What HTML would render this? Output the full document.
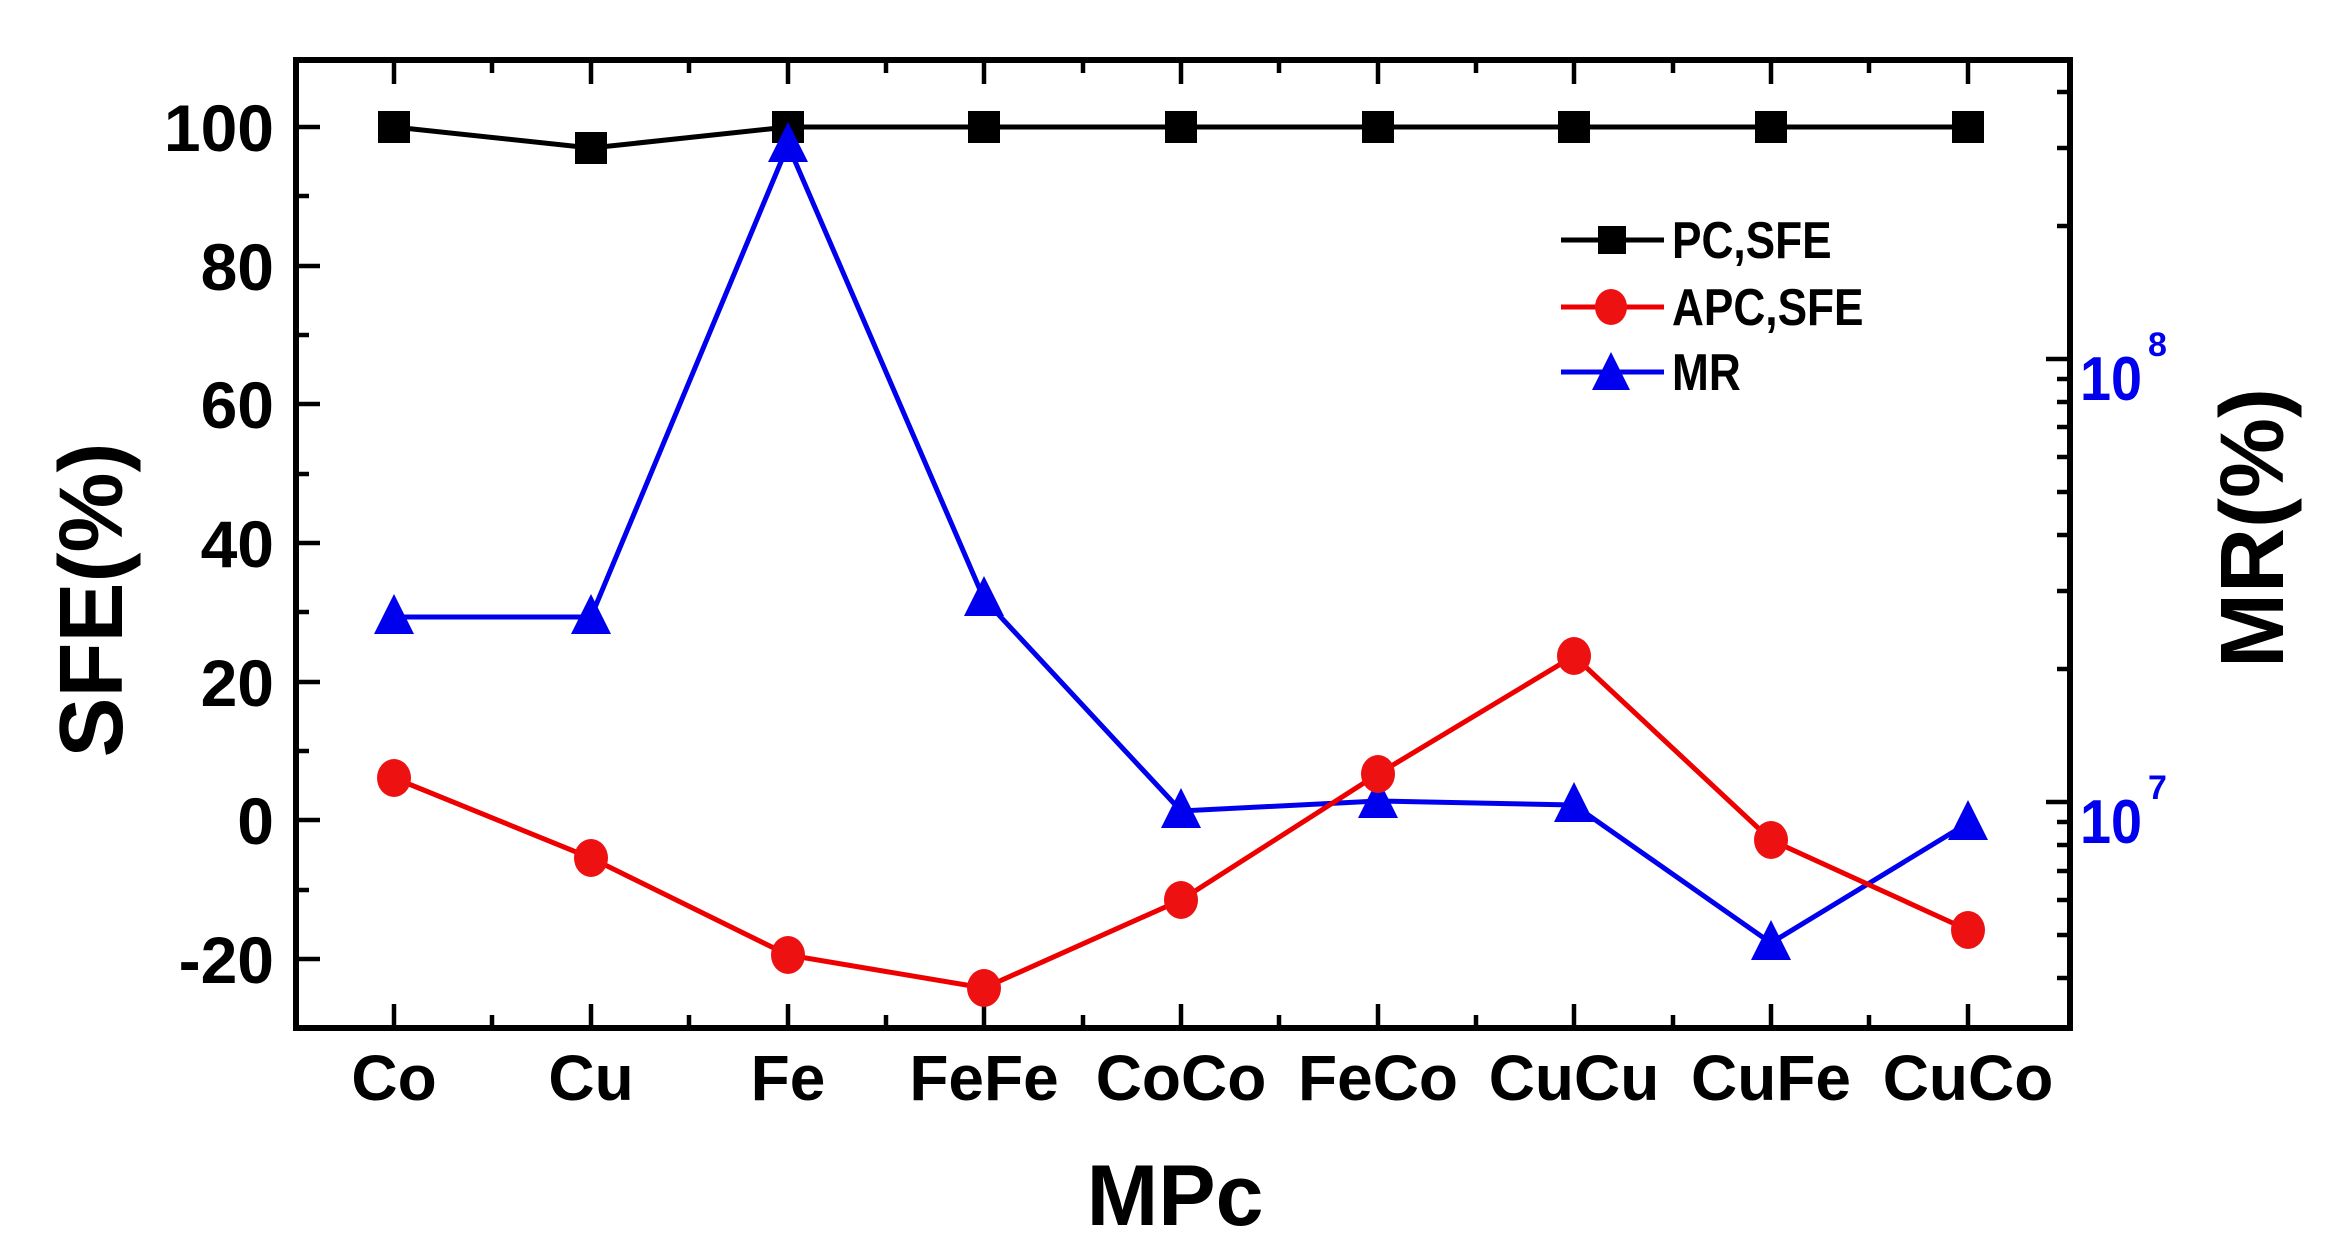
<!DOCTYPE html>
<html><head><meta charset="utf-8"><style>
html,body{margin:0;padding:0;background:#fff;}
svg{display:block;}
text{font-family:"Liberation Sans",Arial,sans-serif;font-weight:bold;}
</style></head><body>
<svg width="2335" height="1255" viewBox="0 0 2335 1255" xmlns="http://www.w3.org/2000/svg">
<rect width="2335" height="1255" fill="#fff"/>
<g stroke="#000" stroke-width="4.5">
  <line x1="296" y1="127" x2="320" y2="127"/><line x1="296" y1="266" x2="320" y2="266"/>
  <line x1="296" y1="404" x2="320" y2="404"/><line x1="296" y1="543" x2="320" y2="543"/>
  <line x1="296" y1="682" x2="320" y2="682"/><line x1="296" y1="820" x2="320" y2="820"/>
  <line x1="296" y1="959" x2="320" y2="959"/>
  <line x1="296" y1="196" x2="309" y2="196"/><line x1="296" y1="335" x2="309" y2="335"/>
  <line x1="296" y1="474" x2="309" y2="474"/><line x1="296" y1="612" x2="309" y2="612"/>
  <line x1="296" y1="751" x2="309" y2="751"/><line x1="296" y1="890" x2="309" y2="890"/>
  <g id="xt">
  <line x1="394" y1="1028" x2="394" y2="1004"/><line x1="591" y1="1028" x2="591" y2="1004"/>
  <line x1="788" y1="1028" x2="788" y2="1004"/><line x1="984" y1="1028" x2="984" y2="1004"/>
  <line x1="1181" y1="1028" x2="1181" y2="1004"/><line x1="1378" y1="1028" x2="1378" y2="1004"/>
  <line x1="1574" y1="1028" x2="1574" y2="1004"/><line x1="1771" y1="1028" x2="1771" y2="1004"/>
  <line x1="1968" y1="1028" x2="1968" y2="1004"/>
  <line x1="492" y1="1028" x2="492" y2="1015"/><line x1="689" y1="1028" x2="689" y2="1015"/>
  <line x1="886" y1="1028" x2="886" y2="1015"/><line x1="1083" y1="1028" x2="1083" y2="1015"/>
  <line x1="1279" y1="1028" x2="1279" y2="1015"/><line x1="1476" y1="1028" x2="1476" y2="1015"/>
  <line x1="1673" y1="1028" x2="1673" y2="1015"/><line x1="1869" y1="1028" x2="1869" y2="1015"/>
  </g>
  <use href="#xt" transform="translate(0,1088) scale(1,-1)"/>
  <line x1="2070" y1="359" x2="2046" y2="359"/><line x1="2070" y1="802" x2="2046" y2="802"/>
  <line x1="2070" y1="978" x2="2057" y2="978"/><line x1="2070" y1="935" x2="2057" y2="935"/>
  <line x1="2070" y1="900" x2="2057" y2="900"/><line x1="2070" y1="871" x2="2057" y2="871"/>
  <line x1="2070" y1="845" x2="2057" y2="845"/><line x1="2070" y1="822" x2="2057" y2="822"/>
  <line x1="2070" y1="669" x2="2057" y2="669"/><line x1="2070" y1="591" x2="2057" y2="591"/>
  <line x1="2070" y1="535" x2="2057" y2="535"/><line x1="2070" y1="492" x2="2057" y2="492"/>
  <line x1="2070" y1="457" x2="2057" y2="457"/><line x1="2070" y1="427" x2="2057" y2="427"/>
  <line x1="2070" y1="402" x2="2057" y2="402"/><line x1="2070" y1="379" x2="2057" y2="379"/>
  <line x1="2070" y1="226" x2="2057" y2="226"/><line x1="2070" y1="148" x2="2057" y2="148"/>
  <line x1="2070" y1="92" x2="2057" y2="92"/>
</g>
<rect x="296" y="60" width="1774" height="968" fill="none" stroke="#000" stroke-width="6"/>
<polyline fill="none" stroke="#000" stroke-width="5" points="394,127 591,148 788,127 984,127 1181,127 1378,127 1574,127 1771,127 1968,127"/>
<g fill="#000">
<rect x="378" y="111" width="32" height="32"/><rect x="575" y="132" width="32" height="32"/>
<rect x="772" y="111" width="32" height="32"/><rect x="968" y="111" width="32" height="32"/>
<rect x="1165" y="111" width="32" height="32"/><rect x="1362" y="111" width="32" height="32"/>
<rect x="1558" y="111" width="32" height="32"/><rect x="1755" y="111" width="32" height="32"/>
<rect x="1952" y="111" width="32" height="32"/>
</g>
<polyline fill="none" stroke="#0000ee" stroke-width="5" points="394,617 591,617 788,145 984,599 1181,811 1378,801 1574,805 1771,943 1968,823"/>
<g fill="#0000ee">
<polygon points="394,594 374,634 414,634"/><polygon points="591,594 571,634 611,634"/>
<polygon points="788,122 768,162 808,162"/><polygon points="984,576 964,616 1004,616"/>
<polygon points="1181,788 1161,828 1201,828"/><polygon points="1378,778 1358,818 1398,818"/>
<polygon points="1574,782 1554,822 1594,822"/><polygon points="1771,920 1751,960 1791,960"/>
<polygon points="1968,800 1948,840 1988,840"/>
</g>
<polyline fill="none" stroke="#ee0000" stroke-width="5" points="394,778 591,858 788,955 984,988 1181,900 1378,774 1574,656 1771,840 1968,930"/>
<g fill="#ee1111">
<ellipse cx="394" cy="778" rx="17" ry="19"/><ellipse cx="591" cy="858" rx="17" ry="19"/>
<ellipse cx="788" cy="955" rx="17" ry="19"/><ellipse cx="984" cy="988" rx="17" ry="19"/>
<ellipse cx="1181" cy="900" rx="17" ry="19"/><ellipse cx="1378" cy="774" rx="17" ry="19"/>
<ellipse cx="1574" cy="656" rx="17" ry="19"/><ellipse cx="1771" cy="840" rx="17" ry="19"/>
<ellipse cx="1968" cy="930" rx="17" ry="19"/>
</g>
<line x1="1561" y1="240" x2="1664" y2="240" stroke="#000" stroke-width="5"/>
<rect x="1598" y="226" width="28" height="28" fill="#000"/>
<text transform="translate(1672,258) scale(0.85,1)" font-size="52">PC,SFE</text>
<line x1="1561" y1="307" x2="1664" y2="307" stroke="#ee0000" stroke-width="5"/>
<ellipse cx="1611" cy="307" rx="16" ry="18" fill="#ee1111"/>
<text transform="translate(1672,325) scale(0.85,1)" font-size="52">APC,SFE</text>
<line x1="1561" y1="372" x2="1664" y2="372" stroke="#0000ee" stroke-width="5"/>
<polygon points="1611,352 1592,390 1630,390" fill="#0000ee"/>
<text transform="translate(1672,390) scale(0.85,1)" font-size="52">MR</text>
<g font-size="66" text-anchor="end">
<text x="274" y="151">100</text><text x="274" y="290">80</text>
<text x="274" y="428">60</text><text x="274" y="567">40</text>
<text x="274" y="706">20</text><text x="274" y="844">0</text>
<text x="274" y="983">-20</text>
</g>
<g fill="#0000ee">
<text transform="translate(2080,400) scale(0.9,1)" font-size="62">10</text><text x="2148" y="356" font-size="34">8</text>
<text transform="translate(2080,843) scale(0.9,1)" font-size="62">10</text><text x="2148" y="799" font-size="34">7</text>
</g>
<g font-size="64" text-anchor="middle">
<text x="394" y="1100">Co</text><text x="591" y="1100">Cu</text>
<text x="788" y="1100">Fe</text><text x="984" y="1100">FeFe</text>
<text x="1181" y="1100">CoCo</text><text x="1378" y="1100">FeCo</text>
<text x="1574" y="1100">CuCu</text><text x="1771" y="1100">CuFe</text>
<text x="1968" y="1100">CuCo</text>
</g>
<text x="1175" y="1225" font-size="86" text-anchor="middle">MPc</text>
<text transform="translate(122,600) rotate(-90)" font-size="90" text-anchor="middle">SFE(%)</text>
<text transform="translate(2283,528) rotate(-90)" font-size="90" text-anchor="middle">MR(%)</text>
</svg>
</body></html>
